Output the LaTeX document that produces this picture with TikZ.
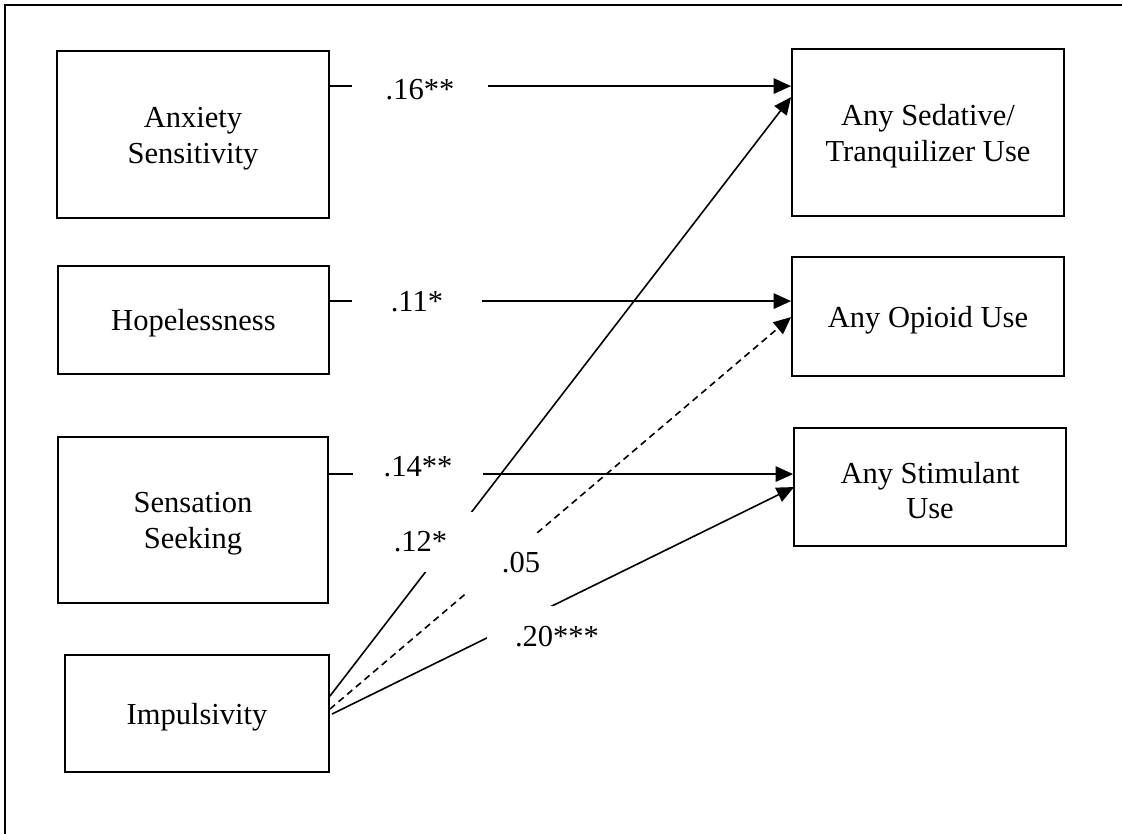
\documentclass[tikz,border=0pt]{standalone}
\usepackage{fontspec}
\setmainfont{Liberation Serif}
\usetikzlibrary{arrows.meta,calc}
% a tall invisible strut on the first line sets the text a little low in its box
\newcommand\toplift{\rule{0pt}{21pt}}
\begin{document}
\begin{tikzpicture}[x=0.75pt,y=-0.75pt,
  txt/.style={font=\fontsize{22.9pt}{26.7pt}\selectfont},
  varbox/.style={txt, draw, line width=1.4pt, align=center, inner sep=0pt},
  sz/.style 2 args={minimum width=#1*0.75pt, minimum height=#2*0.75pt},
  effect/.style={line width=1.2pt, -{Triangle[length=13pt,width=11.5pt]}},
  nseffect/.style={effect, dash pattern=on 5pt off 3.5pt},
  coef/.style={txt, fill=white, inner sep=0pt},
]
\useasboundingbox (0,0) rectangle (1122,833);
% frame of the figure
\draw[line width=1.7pt] (5,850) -- (5,5) -- (1140,5);

% predictors
\node[varbox, sz={272}{167}] (anx) at (193,134.5) {\toplift Anxiety\\Sensitivity};
\node[varbox, sz={271}{108}] (hop) at (193.5,320) {\toplift Hopelessness};
\node[varbox, sz={270}{166}] (sen) at (193,520) {\toplift Sensation\\Seeking};
\node[varbox, sz={264}{117}] (imp) at (197,713.5) {\toplift Impulsivity};

% outcomes
\node[varbox, sz={272}{167}] (sed) at (928,132.5) {\toplift Any Sedative/\\Tranquilizer Use};
\node[varbox, sz={272}{119}] (opi) at (928,316.5) {\toplift Any Opioid Use};
\node[varbox, sz={272}{118}] (sti) at (930,487) {\toplift Any Stimulant\\Use};

% attachment points of the paths
\coordinate (a1) at ($(anx.north east)+(0,36)$);
\coordinate (h1) at ($(hop.north east)+(0,36)$);
\coordinate (s1) at ($(sen.north east)+(0,38)$);
\coordinate (i1) at ($(imp.north east)+(0,42)$);
\coordinate (i2) at ($(imp.north east)+(0,55)$);
\coordinate (i3) at ($(imp.north east)+(2,60)$);
\coordinate (t1) at ($(sed.north west)+(0,49)$);
\coordinate (t2) at ($(opi.north west)+(0,61)$);
\coordinate (t3) at ($(sti.north west)+(1,60)$);

% paths
\draw[effect] (a1) -- (a1 -| sed.west);
\draw[effect] (h1) -- (h1 -| opi.west);
\draw[effect] (s1) -- (s1 -| sti.west);
\draw[effect] (i1) -- (t1);
\draw[nseffect] (i2) -- (t2);
\draw[effect] (i3) -- (t3);

% path coefficients
\node[coef, sz={136}{60}] (c16) at (420,89.5) {.16**};
\node[coef, sz={130}{50}] (c11) at (417,302) {.11*};
\node[coef, sz={130}{50}] (c14) at (418,467) {.14**};
\node[coef, sz={133}{60}] (c12) at (420.5,541.5) {.12*};
\node[coef, sz={110}{59}] (c05) at (521,562.5) {.05};
\node[coef, sz={140}{62}] (c20) at (557,637) {.20***};
\end{tikzpicture}
\end{document}
